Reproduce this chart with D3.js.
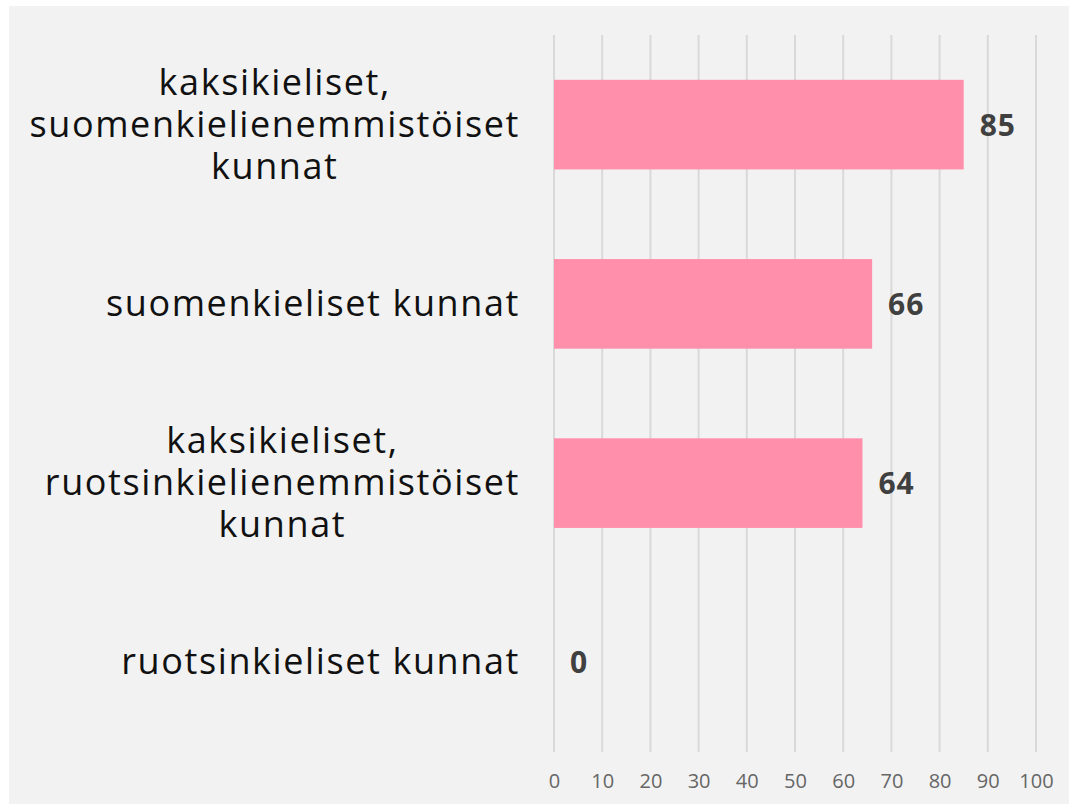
<!DOCTYPE html>
<html>
<head>
<meta charset="utf-8">
<script src="https://cdn.jsdelivr.net/npm/d3@7"></script>
<style>
  html, body { margin: 0; padding: 0; background: #ffffff; }
  svg { display: block; }
</style>
</head>
<body>
<svg id="chart" width="1069" height="804"></svg>
<script>
// Data
const categories = [
    ['kaksikieliset,', 'suomenkielienemmistöiset', 'kunnat'],
    ['suomenkieliset kunnat'],
    ['kaksikieliset,', 'ruotsinkielienemmistöiset', 'kunnat'],
    ['ruotsinkieliset kunnat']
];
const values = [85, 66, 64, 0];
const xTicks = [0, 10, 20, 30, 40, 50, 60, 70, 80, 90, 100];

const svg = d3.select('#chart');
const W = 1069, H = 804;
const margin = { top: 35, right: 33, bottom: 52, left: 554 };
const width = W - margin.left - margin.right;
const height = H - margin.top - margin.bottom;
const font = '"Open Sans", "Noto Sans", sans-serif';

// panel background
svg.append('rect')
    .attr('x', 9).attr('y', 6)
    .attr('width', W - 9).attr('height', H - 6)
    .attr('fill', '#f2f2f2');

const g = svg.append('g')
    .attr('transform', `translate(${margin.left},${margin.top})`);

const x = d3.scaleLinear().domain([0, 100]).range([0, width]);
const y = d3.scaleBand()
    .domain(d3.range(categories.length))
    .range([0, height])
    .paddingInner(0.5)
    .paddingOuter(0.25);

// gridlines
g.selectAll('.grid')
    .data(xTicks)
    .enter().append('line')
    .attr('x1', d => x(d)).attr('x2', d => x(d))
    .attr('y1', 0).attr('y2', height)
    .attr('stroke', '#d9d9d9')
    .attr('stroke-width', 2);

// x axis labels
const xAxis = d3.axisBottom(x).tickValues(xTicks).tickSize(0).tickPadding(22);
const ax = g.append('g')
    .attr('transform', `translate(0,${height})`)
    .call(xAxis);
ax.select('.domain').remove();
ax.selectAll('text')
    .attr('fill', '#666666')
    .style('font-family', font)
    .style('font-size', '20px');

// bars
g.selectAll('.bar')
    .data(values)
    .enter().append('rect')
    .attr('class', 'bar')
    .attr('x', x(0))
    .attr('y', (d, i) => y(i))
    .attr('width', d => x(d) - x(0))
    .attr('height', y.bandwidth())
    .attr('fill', '#ff8fab');

// value labels
g.selectAll('.val')
    .data(values)
    .enter().append('text')
    .attr('x', d => x(d) + 16)
    .attr('y', (d, i) => y(i) + y.bandwidth() / 2 + 11)
    .attr('fill', '#404040')
    .style('font-family', font)
    .style('font-size', '30px')
    .style('font-weight', 'bold')
    .style('letter-spacing', '1px')
    .text(d => d);

// category labels, lines centred, block right-aligned
const lineH = 42;
const labelRight = 520 - margin.left;
categories.forEach((lines, i) => {
    const cy = y(i) + y.bandwidth() / 2;
    const t = g.append('text')
        .attr('fill', '#111111')
        .style('font-family', font)
        .style('font-size', '36px')
        .style('letter-spacing', '1.6px')
        .attr('text-anchor', 'middle');
    const spans = lines.map((ln, j) => t.append('tspan')
        .attr('y', cy + 12 + (j - (lines.length - 1) / 2) * lineH)
        .text(ln));
    const maxW = d3.max(spans, s => s.node().getComputedTextLength());
    spans.forEach(s => s.attr('x', labelRight - maxW / 2));
});
</script>
</body>
</html>
